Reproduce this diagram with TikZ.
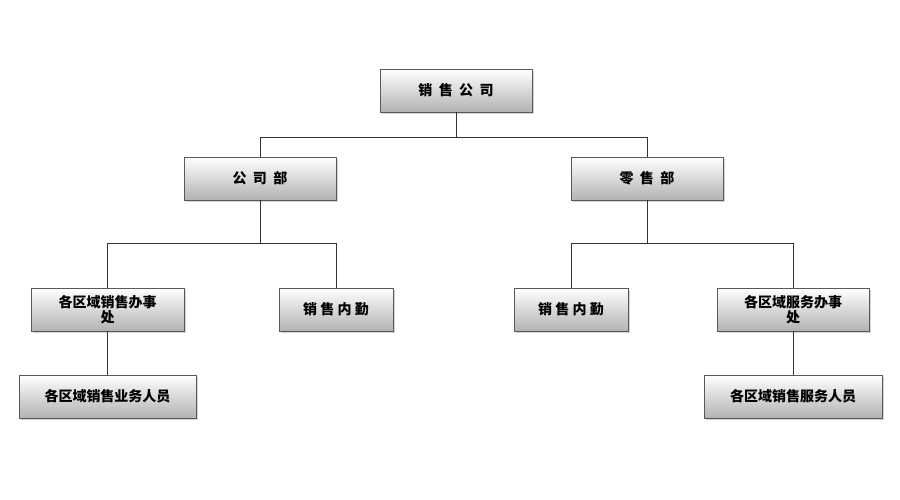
\documentclass[tikz,border=0pt]{standalone}
\usepackage{fontspec}
\newfontfamily\cjk{Noto Sans CJK SC}
\usetikzlibrary{shadows}
\tikzset{
  orgbox/.style={draw=black!65, top color=white, bottom color=black!30,
    drop shadow={shadow xshift=1.5pt, shadow yshift=-2pt, opacity=0.35},
    minimum height=43pt, align=center, inner sep=2pt,
    font=\cjk\bfseries\fontsize{14}{15}\selectfont},
  link/.style={draw=black!80, line width=0.7pt}
}
\begin{document}
\begin{tikzpicture}[x=1pt,y=-1pt]
  \useasboundingbox (0,0) rectangle (900,500);

  \node[orgbox, minimum width=152pt] (top) at (456,90.5) {销\ \ 售\ \ 公\ \ 司};
  \node[orgbox, minimum width=152pt] (gs) at (260,178.5) {公\ \ 司\ \ 部};
  \node[orgbox, minimum width=152pt] (ls) at (647,178.5) {零\ \ 售\ \ 部};

  \node[orgbox, minimum width=153pt, text width=140pt] (xs) at (107.5,309.5) {各区域销售办事\\处};
  \node[orgbox, minimum width=114pt] (nq1) at (336,309.5) {销\ 售\ 内\ 勤};
  \node[orgbox, minimum width=114pt] (nq2) at (571,309.5) {销\ 售\ 内\ 勤};
  \node[orgbox, minimum width=152pt, text width=140pt] (fw) at (793,309.5) {各区域服务办事\\处};

  \node[orgbox, minimum width=177pt] (yw) at (107.5,396.5) {各区域销售业务人员};
  \node[orgbox, minimum width=178pt] (fr) at (793,396.5) {各区域销售服务人员};

  % level 1
  \draw[link] (top.south) -- ++(0,25) -| (gs.north);
  \draw[link] (top.south) ++(0,25) -| (ls.north);
  % level 2
  \draw[link] (gs.south) -- ++(0,43) -| (xs.north);
  \draw[link] (gs.south) ++(0,43) -| (nq1.north);
  \draw[link] (ls.south) -- ++(0,43) -| (nq2.north);
  \draw[link] (ls.south) ++(0,43) -| (fw.north);
  % level 3
  \draw[link] (xs) -- (yw);
  \draw[link] (fw) -- (fr);
\end{tikzpicture}
\end{document}
